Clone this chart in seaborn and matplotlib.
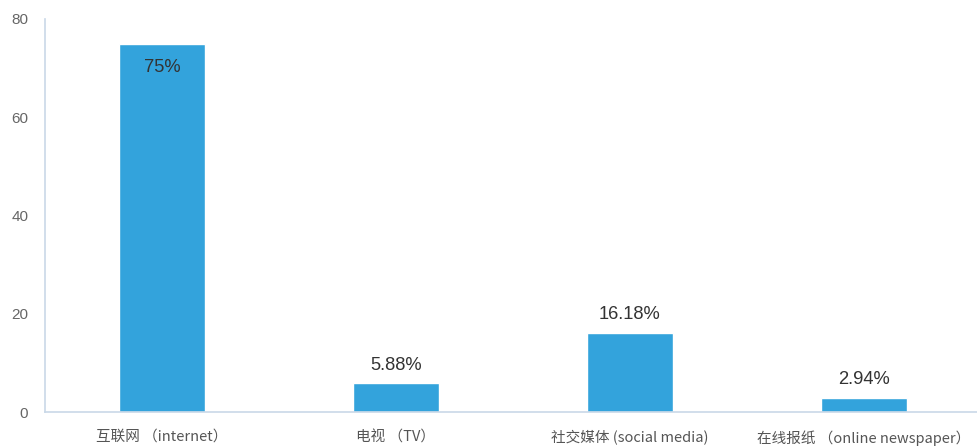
import matplotlib
matplotlib.use("Agg")
import matplotlib.pyplot as plt
import seaborn as sns
import pandas as pd

categories = ["互联网 （internet）", "电视 （TV）", "社交媒体 (social media)", "在线报纸 （online newspaper）"]
shares = [75, 5.88, 16.18, 2.94]
value_labels = ["75%", "5.88%", "16.18%", "2.94%"]
y_ticks = [0, 20, 40, 60, 80]

sns.set_theme(style="white")
plt.rcParams["font.family"] = ["Liberation Sans", "Noto Sans CJK SC", "DejaVu Sans"]

bar_color = "#33a3dc"
axis_color = "#c9d8e8"

df = pd.DataFrame({"category": categories, "share": shares})

fig = plt.figure(figsize=(9.77, 4.46), dpi=100)
ax = fig.add_axes([45 / 977, 34 / 446, 936 / 977, 393 / 446])

sns.barplot(data=df, x="category", y="share", color=bar_color, width=0.365,
            saturation=1, ax=ax)

ax.set_xlim(-0.5, 3.5)
ax.set_ylim(0, 80)
ax.set_yticks(y_ticks)
ax.set_ylabel("")
ax.set_xlabel("")

for s in ["top", "right"]:
    ax.spines[s].set_visible(False)
for s in ["left", "bottom"]:
    ax.spines[s].set_color(axis_color)
    ax.spines[s].set_linewidth(1.2)

# category dividers as outward ticks, labels centred under each bar
ax.set_xticks([-0.5, 0.5, 1.5, 2.5, 3.5])
ax.set_xticklabels([])
ax.tick_params(axis="x", which="major", length=12, width=1.2, color=axis_color, direction="out")
ax.set_xticks(range(len(categories)), minor=True)
ax.set_xticklabels(categories, minor=True,
                   fontfamily=["Noto Sans CJK SC", "DejaVu Sans"])
ax.tick_params(axis="x", which="minor", length=0, pad=13, labelsize=10.5, labelcolor="#555555")
ax.tick_params(axis="y", length=0, pad=12, labelsize=11, labelcolor="#666666")

for i, (v, lab) in enumerate(zip(shares, value_labels)):
    offset = -24 if v > 70 else 18
    ax.annotate(lab, (i, v), xytext=(0, offset), textcoords="offset pixels",
                ha="center", va="center", fontsize=13.2, color="#333333")

fig.savefig("out.png", dpi=100)
